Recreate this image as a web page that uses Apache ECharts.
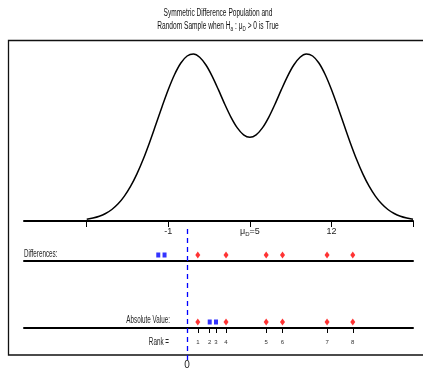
<!DOCTYPE html>
<html>
<head>
<meta charset="utf-8">
<script src="https://cdn.jsdelivr.net/npm/echarts@6/dist/echarts.min.js"></script>
<style>html,body{margin:0;padding:0;background:#fff}#c{width:423px;height:370px}</style>
</head>
<body>
<div id="c"></div>
<script>
// Population density curve (relative height)
const curveX = [-8,-7.5,-7,-6.5,-6,-5.5,-5,-4.5,-4,-3.5,-3,-2.5,-2,-1.5,-1,-0.5,0,0.5,1,1.5,2,2.5,3,3.5,4,4.5,5,5.5,6,6.5,7,7.5,8,8.5,9,9.5,10,10.5,11,11.5,12,12.5,13,13.5,14,14.5,15,15.5,16,16.5,17,17.5,18];
const curveY = [1.7,2.9,4.7,7.5,11.5,17.2,24.9,34.8,47.1,61.7,78.3,96.2,114.3,131.5,146.5,158.0,165.0,167.0,163.8,156.0,144.7,131.1,116.8,103.7,93.1,86.2,83.8,86.2,93.1,103.7,116.8,131.1,144.7,156.0,163.8,167.0,165.0,158.0,146.5,131.5,114.3,96.2,78.3,61.7,47.1,34.8,24.9,17.2,11.5,7.5,4.7,2.9,1.7];
// Sample differences
const differences = [-2.3, -1.8, 0.85, 3.1, 6.3, 7.6, 11.15, 13.2];
const ranks = [1, 2, 3, 4, 5, 6, 7, 8];
// Axis ticks and labels
const axisTicks = [-8, -1.5, 5, 11.5, 18];
const axisLabelPos = [-1.5, 5, 11.5];
const axisLabelText = ['-1', '{m|μ}{s|D}{m|=5}', '12'];

const absValues = differences.map(Math.abs);
const order = absValues.map((v, i) => i).sort((a, b) => absValues[a] - absValues[b]);
const absSorted = order.map(i => absValues[i]);
const absSign = order.map(i => differences[i] < 0);

const FONT = "'Liberation Sans Narrow','Liberation Sans',Arial,sans-serif";
const chart = echarts.init(document.getElementById('c'), null, {renderer: 'canvas'});

const rowY = 6;
const hiddenY = (gi, max) => ({gridIndex: gi, type: 'value', min: 0, max: max, show: false});

function nearestIdx(arr, v) {
  let b = 0;
  for (let i = 1; i < arr.length; i++) if (Math.abs(arr[i] - v) < Math.abs(arr[b] - v)) b = i;
  return b;
}

const SX = 0.66;

chart.setOption({
  animation: false,
  backgroundColor: '#fff',
  grid: [
    {left: 24, right: 10, top: 44, height: 177},
    {left: 24, right: 10, top: 245, height: 16},
    {left: 24, right: 10, top: 312, height: 16},
    {left: 24, right: 10, top: 228, height: 134}
  ],
  xAxis: [
    {gridIndex: 0, type: 'value', min: -13, max: 18,
      axisLine: {show: true, onZero: false, lineStyle: {color: '#000', width: 2}},
      axisTick: {show: true, customValues: axisTicks, length: 6, lineStyle: {color: '#000', width: 1}},
      axisLabel: {show: true, customValues: axisLabelPos, margin: 6, fontSize: 9, fontFamily: FONT, color: '#222',
        formatter: v => axisLabelText[nearestIdx(axisLabelPos, v)],
        rich: {m: {fontSize: 9, fontFamily: FONT, color: '#222'}, s: {fontSize: 6, fontFamily: FONT, color: '#222', padding: [4, 0, 0, 0]}}},
      splitLine: {show: false}},
    {gridIndex: 1, type: 'value', min: -13, max: 18,
      axisLine: {show: true, onZero: false, lineStyle: {color: '#000', width: 2}},
      axisTick: {show: false}, axisLabel: {show: false}, splitLine: {show: false}},
    {gridIndex: 2, type: 'value', min: -13, max: 18,
      axisLine: {show: true, onZero: false, lineStyle: {color: '#000', width: 2}},
      axisTick: {show: true, customValues: absSorted, length: 5, lineStyle: {color: '#000', width: 1}},
      axisLabel: {show: true, customValues: absSorted, margin: 11, fontSize: 6, fontFamily: FONT, color: '#333',
        formatter: v => String(ranks[nearestIdx(absSorted, v)])},
      splitLine: {show: false}},
    {gridIndex: 3, type: 'value', min: -13, max: 18,
      axisLine: {show: false}, axisTick: {show: false},
      axisLabel: {show: true, customValues: [0], margin: 0, fontSize: 10, fontFamily: FONT, color: '#222', formatter: '{value}'},
      splitLine: {show: false}}
  ],
  yAxis: [hiddenY(0, 177), hiddenY(1, 16), hiddenY(2, 16), hiddenY(3, 1)],
  series: [
    {type: 'line', xAxisIndex: 0, yAxisIndex: 0, data: curveX.map((x, i) => [x, curveY[i]]),
      showSymbol: false, smooth: 0.3, clip: false, lineStyle: {color: '#000', width: 1.5}},
    {type: 'scatter', xAxisIndex: 3, yAxisIndex: 3, data: [], silent: true,
      markLine: {symbol: 'none', silent: true, label: {show: false},
        lineStyle: {color: '#0000ff', width: 1.3, type: [5, 4]}, data: [{xAxis: 0}]}},
    {type: 'scatter', xAxisIndex: 1, yAxisIndex: 1, symbol: 'rect', symbolSize: [4, 5],
      itemStyle: {color: '#0000ff'}, data: differences.filter(v => v < 0).map(v => [v, rowY])},
    {type: 'scatter', xAxisIndex: 1, yAxisIndex: 1, symbol: 'diamond', symbolSize: [5, 7],
      itemStyle: {color: '#ff0000'}, data: differences.filter(v => v >= 0).map(v => [v, rowY])},
    {type: 'scatter', xAxisIndex: 2, yAxisIndex: 2, symbol: 'rect', symbolSize: [4, 5],
      itemStyle: {color: '#0000ff'}, data: absSorted.filter((v, i) => absSign[i]).map(v => [v, rowY])},
    {type: 'scatter', xAxisIndex: 2, yAxisIndex: 2, symbol: 'diamond', symbolSize: [5, 7],
      itemStyle: {color: '#ff0000'}, data: absSorted.filter((v, i) => !absSign[i]).map(v => [v, rowY])}
  ],
  graphic: [
    {type: 'rect', silent: true, shape: {x: 8.5, y: 40.5, width: 430, height: 314.5},
      style: {fill: 'none', stroke: '#111', lineWidth: 1.3}},
    {type: 'text', silent: true, x: 218, y: 7, scaleX: SX, style: {
      text: 'Symmetric Difference Population and\n{n|Random Sample when H}{s|a}{n| : μ}{s|D}{n| > 0 is True}',
      align: 'center', fontSize: 10, fontFamily: FONT, fill: '#111', lineHeight: 13,
      rich: {n: {fontSize: 10, fontFamily: FONT, fill: '#111', lineHeight: 13},
             s: {fontSize: 7, fontFamily: FONT, fill: '#111', padding: [5, 0, 0, 0], lineHeight: 13}}}},
    {type: 'text', silent: true, x: 24, y: 254, scaleX: 0.63, style: {text: 'Differences:', align: 'left', verticalAlign: 'middle',
      fontSize: 10, fontFamily: FONT, fill: '#222'}},
    {type: 'text', silent: true, x: 170, y: 320, scaleX: 0.63, style: {text: 'Absolute Value:', align: 'right', verticalAlign: 'middle',
      fontSize: 10, fontFamily: FONT, fill: '#222'}},
    {type: 'text', silent: true, x: 169, y: 342, scaleX: 0.63, style: {text: 'Rank =', align: 'right', verticalAlign: 'middle',
      fontSize: 10, fontFamily: FONT, fill: '#222'}}
  ]
});
</script>
</body>
</html>
